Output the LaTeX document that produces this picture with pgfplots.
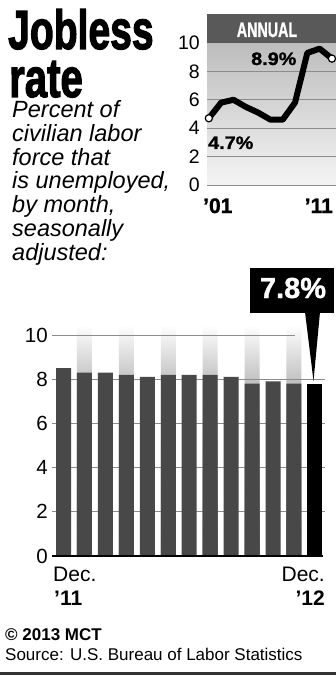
\documentclass[border=0pt]{standalone}
\usepackage{graphicx}
\usepackage{pgfplots}
\pgfplotsset{compat=1.18}
\usepackage{fontspec}
\setmainfont{Liberation Sans}
\newfontface\heavy[FakeBold=2.5]{Liberation Sans Bold}
\newfontface\semiheavy[FakeBold=1.2]{Liberation Sans Bold}
\definecolor{bardark}{HTML}{484848}
\definecolor{hdr}{HTML}{595959}
\definecolor{gridc}{HTML}{8C8C8C}
\definecolor{bgtop}{HTML}{BDBDBD}
\definecolor{bgbot}{HTML}{F4F4F4}
\begin{document}
\begin{tikzpicture}
\path[use as bounding box, fill=white] (0pt,0pt) rectangle (336pt,-676pt);

% ---- Title and description
\node[anchor=base west, inner sep=0pt] at (8pt,-49pt)
  {\fontsize{55}{55}\heavy\scalebox{0.71}[1]{Jobless}};
\node[anchor=base west, inner sep=0pt] at (9pt,-97pt)
  {\fontsize{55}{55}\heavy\scalebox{0.73}[1]{rate}};
\begin{scope}[every node/.style={anchor=base west, inner sep=0pt, font=\fontsize{23.5}{24}\selectfont\itshape}]
\node at (12pt,-117.5pt) {Percent of};
\node at (12pt,-141.3pt) {civilian labor};
\node at (12pt,-165.1pt) {force that};
\node at (12pt,-188.9pt) {is unemployed,};
\node at (12pt,-212.7pt) {by month,};
\node at (12pt,-236.5pt) {seasonally};
\node at (12pt,-260.3pt) {adjusted:};
\end{scope}

% ---- Annual inset chart
\begin{axis}[
  at={(207pt,-185pt)}, anchor=south west,
  scale only axis, width=129pt, height=171pt,
  xmin=2000.85, xmax=2011.33, ymin=0, ymax=12.04,
  clip=false,
  axis line style={draw=none}, major tick length=0pt,
  xtick=\empty, ytick={0,2,4,6,8,10},
  /pgf/number format/assume math mode=true,
  yticklabel style={font=\fontsize{19.5}{19.5}\selectfont, inner sep=0pt, xshift=-7pt},
]
\fill[top color=bgtop, bottom color=bgbot] (axis cs:2000.85,0) rectangle (axis cs:2011.33,10);
\fill[hdr] (axis cs:2000.85,10) rectangle (axis cs:2011.33,12.04);
\pgfplotsinvokeforeach{0,2,4,6,8}{
  \draw[gridc, line width=0.9pt] (axis cs:2000.85,#1) -- (axis cs:2011.33,#1);
}
\addplot[black, line width=6pt, line join=round, line cap=round] coordinates {
  (2001,4.7) (2002,5.8) (2003,6.0) (2004,5.5) (2005,5.1) (2006,4.6)
  (2007,4.6) (2008,5.8) (2009,9.3) (2010,9.6) (2011,8.9)};
\addplot[only marks, mark=*, mark size=3.6pt,
  mark options={fill=white, draw=black, line width=1.2pt}] coordinates {
  (2001,4.7) (2011,8.9)};
\end{axis}
\node[anchor=base, inner sep=0pt, text=white] at (267pt,-37pt)
  {\fontsize{21}{21}\semiheavy\scalebox{0.68}[1]{ANNUAL}};
\node[anchor=base west, inner sep=0pt] at (251pt,-65pt)
  {\fontsize{18}{18}\semiheavy\scalebox{1.1}[1]{8.9\%}};
\node[anchor=base west, inner sep=0pt] at (208pt,-149pt)
  {\fontsize{18}{18}\semiheavy\scalebox{1.1}[1]{4.7\%}};
\node[anchor=base west, inner sep=0pt] at (203pt,-213pt)
  {\fontsize{21}{21}\semiheavy ’01};
\node[anchor=base east, inner sep=0pt] at (333pt,-213pt)
  {\fontsize{21}{21}\semiheavy ’11};

% ---- Monthly bar chart
\begin{axis}[
  at={(52pt,-556pt)}, anchor=south west,
  scale only axis, width=273pt, height=234.3pt,
  xmin=-0.55, xmax=12.48, ymin=0, ymax=10.6,
  clip=false,
  axis line style={draw=none}, major tick length=0pt,
  xtick=\empty, ytick={0,2,4,6,8,10},
  /pgf/number format/assume math mode=true,
  yticklabel style={font=\fontsize{20.5}{20.5}\selectfont, inner sep=0pt, xshift=-4pt},
]
% shaded stripes behind alternate bars
\addplot[ybar, bar width=15pt, bar shift=0pt, draw=none,
  top color=white, bottom color=black] coordinates {
  (1,10.45) (3,10.45) (5,10.45) (7,10.45) (9,10.45) (11,10.45)};
\pgfplotsinvokeforeach{2,4,6,8}{
  \draw[gridc, line width=0.9pt] (axis cs:-0.55,#1) -- (axis cs:12.48,#1);
}
\draw[gridc, line width=0.9pt] (axis cs:-0.55,10) -- (axis cs:11.04,10);
\addplot[ybar, bar width=15pt, bar shift=0pt, draw=none, fill=bardark] coordinates {
  (0,8.5) (1,8.3) (2,8.3) (3,8.2) (4,8.1) (5,8.2) (6,8.2)
  (7,8.2) (8,8.1) (9,7.8) (10,7.9) (11,7.8)};
\addplot[ybar, bar width=15pt, bar shift=0pt, draw=none, fill=black] coordinates {
  (12,7.8)};
\draw[black, line width=2.5pt] (axis cs:-0.55,0) -- (axis cs:12.4,0);
\end{axis}

% callout
\fill[black] (250pt,-268pt) rectangle (334pt,-313pt);
\fill[black] (305pt,-312pt) -- (320pt,-312pt) -- (313.5pt,-381pt) -- cycle;
\node[anchor=base, inner sep=0pt, text=white] at (293pt,-298pt)
  {\fontsize{29}{29}\semiheavy 7.8\%};

% x labels of bar chart
\begin{scope}[every node/.style={inner sep=0pt, font=\fontsize{21}{21}\selectfont}]
\node[anchor=base west] at (53pt,-581pt) {Dec.};
\node[anchor=base west] at (54pt,-605pt) {\bfseries ’11};
\node[anchor=base east] at (325pt,-581pt) {Dec.};
\node[anchor=base east] at (325pt,-605pt) {\bfseries ’12};
\end{scope}

% credits
\node[anchor=base west, inner sep=0pt, font=\fontsize{17}{17}\selectfont\bfseries] at (5pt,-640pt) {© 2013 MCT};
\node[anchor=base west, inner sep=0pt, font=\fontsize{17}{17}\selectfont] at (5pt,-660pt) {Source: U.S. Bureau of Labor Statistics};
\fill[black!80] (0pt,-672pt) rectangle (336pt,-675pt);
\end{tikzpicture}
\end{document}
